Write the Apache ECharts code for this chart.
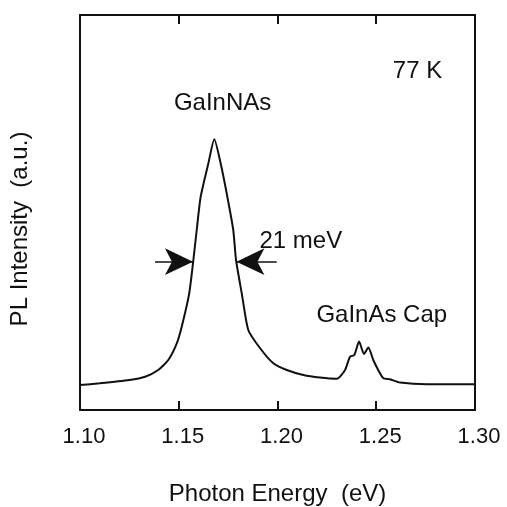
<!DOCTYPE html>
<html>
<head>
<meta charset="utf-8">
<script src="https://cdn.jsdelivr.net/npm/echarts@6/dist/echarts.min.js"></script>
<style>
html, body { margin: 0; padding: 0; background: #fff; }
#chartView { width: 507px; height: 507px; }
</style>
</head>
<body>
<div id="chartView"></div>
<script>
// photon energy (eV) and PL intensity (a.u.)
var energy = [1.100, 1.110, 1.125, 1.133, 1.1396, 1.1447, 1.149, 1.1515, 1.1553, 1.1574, 1.1591, 1.1611, 1.165, 1.168,
	1.1712, 1.1746, 1.1776, 1.179, 1.1819, 1.1852, 1.1911, 1.1979, 1.2047, 1.2131, 1.2215, 1.2301, 1.2342, 1.2367,
	1.2389, 1.2413, 1.2438, 1.246, 1.2485, 1.251, 1.2536, 1.257, 1.262, 1.2755, 1.300];
var intensity = [25, 26.7, 30, 33.3, 40, 50, 66.7, 83.3, 116.7, 150, 180, 213.3, 246.7, 270.7,
	246.7, 213.3, 180, 150, 116.7, 80, 62, 46.7, 40, 35, 32.5, 31.3, 40, 53.3,
	55, 68.5, 56, 62.5, 50, 40, 31.7, 30.7, 27.5, 25.7, 25.7];
var xTicks = [1.10, 1.15, 1.20, 1.25, 1.30];
// FWHM arrows (21 meV)
var fwhmY = 148.3;
var fwhmLeft = [1.138, 1.1572];
var fwhmRight = [1.1996, 1.1792];
// annotations: [text, energy, intensity]
var notes = [
	['GaInNAs', 1.1722, 307],
	['77 K', 1.2709, 338.3],
	['21 meV', 1.2118, 168.3],
	['GaInAs Cap', 1.2528, 95]
];

var chartView = echarts.init(document.getElementById('chartView'));
var font = 'Liberation Sans, Arial, Helvetica, sans-serif';
var lineData = [];
for (var i = 0; i < energy.length; i++) {
	lineData.push([energy[i], intensity[i]]);
}
var frameLine = { onZero: false, lineStyle: { color: '#111', width: 2 } };
var ops = {
	animation: false,
	backgroundColor: '#fff',
	grid: { left: 80, right: 32, top: 15, bottom: 97, containLabel: false, outerBoundsMode: 'none' },
	xAxis: [{
		type: 'value',
		min: 1.10,
		max: 1.30,
		interval: 0.05,
		position: 'bottom',
		name: 'Photon Energy  (eV)',
		nameLocation: 'middle',
		nameGap: 72,
		nameTextStyle: { fontFamily: font, fontSize: 24, color: '#111' },
		axisLine: frameLine,
		axisTick: { inside: true, length: 9, lineStyle: { color: '#111', width: 2 } },
		axisLabel: {
			margin: 16,
			fontFamily: font,
			fontSize: 22,
			color: '#111',
			padding: [0, 0, 0, 8],
			formatter: function (v) { return xTicks.indexOf(+v.toFixed(2)) >= 0 ? v.toFixed(2) : ''; }
		},
		splitLine: { show: false }
	}, {
		type: 'value',
		min: 1.10,
		max: 1.30,
		interval: 0.05,
		position: 'top',
		axisLine: frameLine,
		axisTick: { inside: true, length: 9, lineStyle: { color: '#111', width: 2 } },
		axisLabel: { show: false },
		splitLine: { show: false }
	}],
	yAxis: [{
		type: 'value',
		min: 0,
		max: 395,
		position: 'left',
		name: 'PL Intensity  (a.u.)',
		nameLocation: 'middle',
		nameGap: 48,
		nameTextStyle: { fontFamily: font, fontSize: 24, color: '#111', padding: [0, 33, 0, 0] },
		axisLine: { show: true, onZero: false, lineStyle: { color: '#111', width: 2 } },
		axisTick: { show: false },
		axisLabel: { show: false },
		splitLine: { show: false }
	}, {
		type: 'value',
		min: 0,
		max: 395,
		position: 'right',
		axisLine: { show: true, onZero: false, lineStyle: { color: '#111', width: 2 } },
		axisTick: { show: false },
		axisLabel: { show: false },
		splitLine: { show: false }
	}],
	series: [{
		type: 'line',
		data: lineData,
		showSymbol: false,
		smooth: 0.2,
		lineStyle: { color: '#111', width: 2 },
		markLine: {
			silent: true,
			symbol: ['none', 'arrow'],
			symbolSize: [20, 28],
			lineStyle: { color: '#111', width: 1.5, type: 'solid' },
			label: { show: false },
			data: [
				[{ coord: [fwhmLeft[0], fwhmY] }, { coord: [fwhmLeft[1], fwhmY] }],
				[{ coord: [fwhmRight[0], fwhmY] }, { coord: [fwhmRight[1], fwhmY] }]
			]
		},
		markPoint: {
			silent: true,
			symbol: 'circle',
			symbolSize: 0,
			label: {
				show: true,
				position: 'inside',
				fontFamily: font,
				fontSize: 24,
				color: '#111',
				formatter: function (p) { return p.name; }
			},
			data: notes.map(function (n) { return { name: n[0], coord: [n[1], n[2]] }; })
		}
	}]
};
chartView.setOption(ops);
</script>
</body>
</html>
